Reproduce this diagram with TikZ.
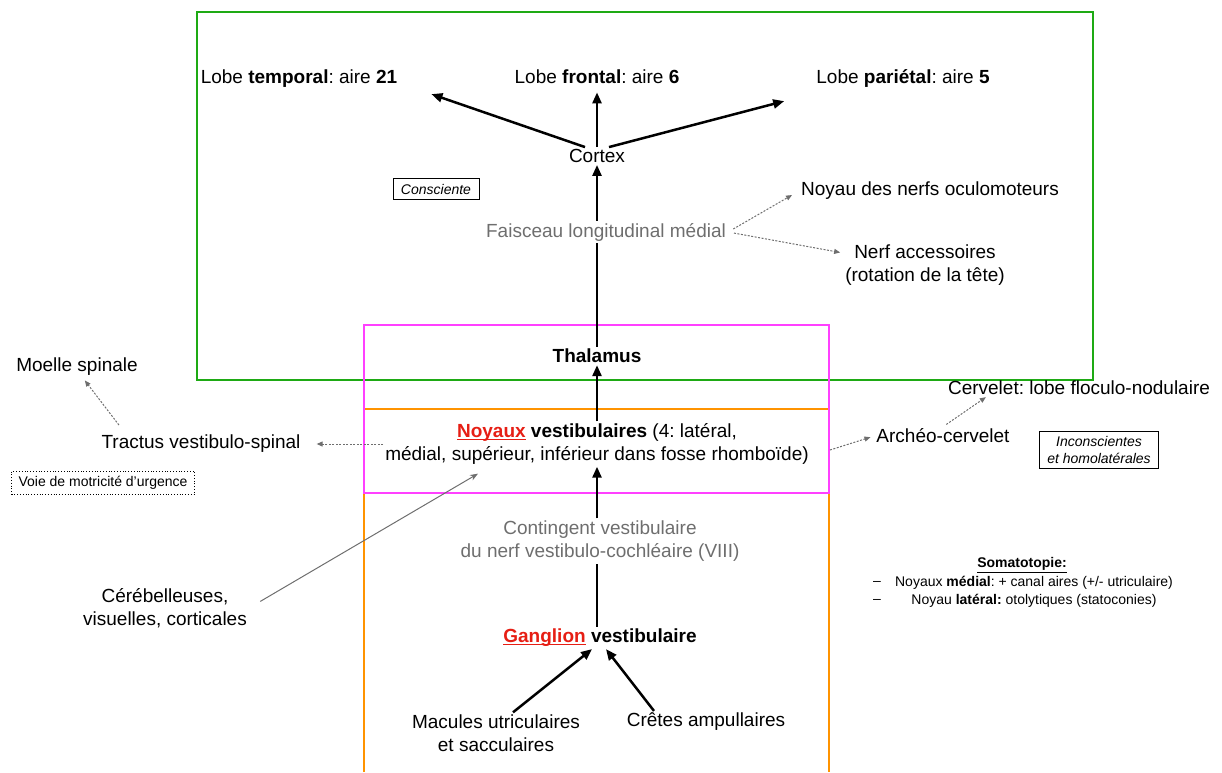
\documentclass[tikz,border=0pt]{standalone}
\usepackage{fontspec}
\setmainfont{Liberation Sans}
\usetikzlibrary{arrows.meta,positioning,calc}

\definecolor{zonegreen}{RGB}{30,170,20}
\definecolor{zonepink}{RGB}{255,64,255}
\definecolor{zoneorange}{RGB}{255,147,0}
\definecolor{keyred}{RGB}{230,30,20}
\definecolor{fibgray}{RGB}{110,110,110}

\newsavebox{\keybox}
\newcommand{\keyword}[1]{\textcolor{keyred}{\sbox{\keybox}{#1}\rlap{\rule[-2.2pt]{\wd\keybox}{1.1pt}}\usebox{\keybox}}}
\frenchspacing

\begin{document}
\begin{tikzpicture}[
  x=1pt, y=-1pt,
  font=\fontsize{19}{23}\selectfont,
  lbl/.style={inner sep=2pt, align=center},
  lobe/.style={lbl, anchor=base},
  fib/.style={lbl, text=fibgray},
  tag/.style={draw, line width=0.8pt, inner xsep=8pt, inner ysep=5pt, align=center, font=\fontsize{14}{17}\selectfont\itshape},
  tagdot/.style={draw, dotted, line width=0.8pt, inner xsep=7pt, inner ysep=5pt, font=\fontsize{14}{17}\selectfont},
  note/.style={inner sep=1pt, font=\fontsize{14}{18}\selectfont},
  zone/.style={line width=2.4pt},
  link/.style={line width=2.5pt},
  arr/.style={-{Triangle[length=11pt,width=9pt]}, line width=2.5pt},
  side/.style={-{Triangle[length=6pt,width=5pt]}, line width=1pt, fibgray, dash pattern=on 2pt off 1.5pt},
  feed/.style={-{Stealth[length=8pt,width=6pt]}, line width=1pt, fibgray}
]
  \useasboundingbox (0,0) rectangle (1222,772);

  % Zones
  \draw[zone, zonegreen] (197,12) rectangle (1093,380);
  \draw[zone, zoneorange] (364,772) -- (364,409) -- (829,409) -- (829,772);
  \draw[zone, zonepink] (364,325) rectangle (829,493);

  % Cortex and lobes
  \node[lobe] (temporal) at (299,83) {Lobe \textbf{temporal}: aire \textbf{21}};
  \node[lobe] (frontal) at (597,83) {Lobe \textbf{frontal}: aire \textbf{6}};
  \node[lobe] (parietal) at (903,83) {Lobe \textbf{pariétal}: aire \textbf{5}};
  \node[lbl] (cortex) at (597,156) {Cortex};
  \node[tag] (consc) at (436,189) {Consciente};

  % Faisceau longitudinal medial
  \node[fib] (flm) at (606,232) {Faisceau longitudinal médial};
  \node[lbl] (oculo) at (930,191) {Noyau des nerfs oculomoteurs};
  \node[lbl] (access) at (925,265) {Nerf accessoires\\(rotation de la tête)};

  % Thalamus and nuclei
  \node[lbl] (thalamus) at (597,356) {\textbf{Thalamus}};
  \node[lbl] (noyaux) at (597,444) {\textbf{\keyword{Noyaux} vestibulaires} (4: latéral,\\médial, supérieur, inférieur dans fosse rhomboïde)};

  % Left side
  \node[lbl] (moelle) at (77,367) {Moelle spinale};
  \node[lbl] (tractus) at (201,444) {Tractus vestibulo-spinal};
  \node[tagdot] (urgence) at (103,483) {Voie de motricité d’urgence};
  \node[lbl] (cereb) at (165,608) {Cérébelleuses,\\visuelles, corticales};

  % Right side
  \node[lbl] (archeo) at (943,436) {Archéo-cervelet};
  \node[lbl] (cervelet) at (1079,388) {Cervelet: lobe floculo-nodulaire};
  \node[tag] (inconsc) at (1099,450) {Inconscientes\\et homolatérales};

  \node[note] (somato) at (1022,565) {\textbf{\underline{Somatotopie:}}};
  \node[note] (medial) at (1034,583) {Noyaux \textbf{médial}: + canal aires (+/- utriculaire)};
  \node[note] (lateral) at (1034,601) {Noyau \textbf{latéral:} otolytiques (statoconies)};
  \node[note] (dash1) at (877,583) {–};
  \node[note] (dash2) at (877,601) {–};

  % Nerve and receptors
  \node[fib] (contingent) at (600,541) {Contingent vestibulaire\\du nerf vestibulo-cochléaire (VIII)};
  \node[lbl] (ganglion) at (600,638) {\textbf{\keyword{Ganglion} vestibulaire}};
  \node[lbl] (macules) at (496,733) {Macules utriculaires\\et sacculaires};
  \node[lbl] (cretes) at (706,722) {Crêtes ampullaires};

  % Ascending pathway
  \draw[arr] (macules.north) ++(17,0) -- ([xshift=-8pt]ganglion.south);
  \draw[arr] ([xshift=-52pt]cretes.north) -- ([xshift=6pt]ganglion.south);
  \draw[link] (ganglion.north -| noyaux) -- (contingent.south -| noyaux);
  \draw[arr] (contingent.north -| noyaux) -- (noyaux.south);
  \draw[arr] (noyaux.north -| thalamus) -- (thalamus);
  \draw[link] (thalamus) -- (flm.south -| thalamus);
  \draw[arr] (flm.north -| cortex) -- (cortex);
  \draw[arr, shorten >=7pt] (cortex) -- (frontal.south);
  \draw[arr] ([xshift=-12pt]cortex.north) -- ($(temporal.south east)+(32,5)$);
  \draw[arr] ([xshift=12pt]cortex.north) -- ($(parietal.south west)+(-30,12)$);

  % Side projections
  \draw[side, shorten <=6pt, shorten >=8pt] (flm.east) -- (oculo.west);
  \draw[side, shorten <=6pt, shorten >=3pt] (flm.east) -- ([yshift=12pt]access.west);
  \draw[side, shorten >=14pt] (noyaux.west) -- (tractus.east);
  \draw[side, shorten <=10pt, shorten >=3pt] ([xshift=-76pt]tractus.north) -- ([xshift=6pt]moelle.south);
  \draw[side, shorten <=20pt, shorten >=4pt] ([yshift=-12pt]noyaux.east) -- (archeo.west);
  \draw[side, shorten <=4pt] (archeo.north) -- ([xshift=40pt]cervelet.south west);
  \draw[feed, shorten <=13pt] (cereb.east) -- ($(noyaux.south)+(-119,7)$);
\end{tikzpicture}
\end{document}
